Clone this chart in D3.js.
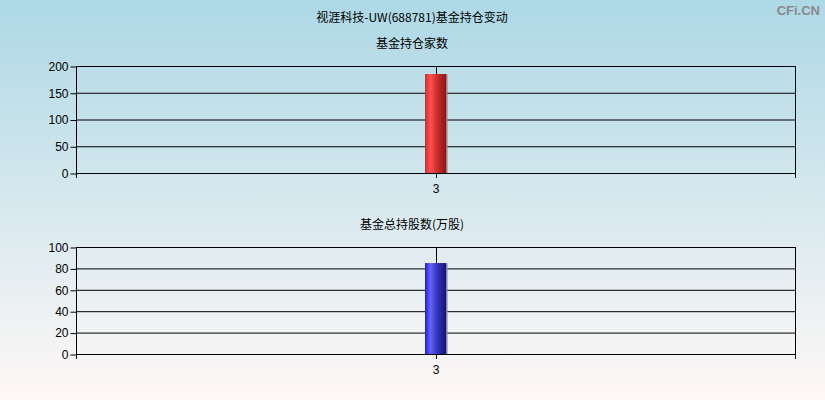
<!DOCTYPE html>
<html>
<head>
<meta charset="utf-8">
<script src="https://cdn.jsdelivr.net/npm/d3@7"></script>
<style>
  body { margin: 0; }
  svg { display: block; font-family: "Noto Sans CJK SC", "Noto Sans", sans-serif; }
</style>
</head>
<body>
<svg id="chart" width="825" height="400"></svg>
<script>
// data
const categories = ["3"];
const fundCounts = [185];
const fundShares = [85];
const countTicks = [0, 50, 100, 150, 200];
const shareTicks = [0, 20, 40, 60, 80, 100];

const svg = d3.select("#chart");
const defs = svg.append("defs");

// page background
const bg = defs.append("linearGradient").attr("id", "bg").attr("x1", 0).attr("y1", 0).attr("x2", 0).attr("y2", 1);
bg.append("stop").attr("offset", "0%").attr("stop-color", "#add8e6");
bg.append("stop").attr("offset", "100%").attr("stop-color", "#fff8f6");
svg.append("rect").attr("width", 825).attr("height", 400).attr("fill", "url(#bg)");

// bar shading
function barGradient(id, stops) {
  const g = defs.append("linearGradient").attr("id", id).attr("x1", 0).attr("y1", 0).attr("x2", 1).attr("y2", 0);
  stops.forEach(([o, c]) => g.append("stop").attr("offset", o).attr("stop-color", c));
}
barGradient("red", [["0%", "#e82020"], ["25%", "#ff5252"], ["60%", "#c82a2a"], ["100%", "#8a1818"]]);
barGradient("blue", [["0%", "#1a1aee"], ["25%", "#6464ff"], ["60%", "#3232b8"], ["100%", "#14146e"]]);

svg.append("text").attr("x", 412).attr("y", 22).attr("text-anchor", "middle")
  .attr("font-size", 12).text("视涯科技-UW(688781)基金持仓变动");

svg.append("text").attr("x", 820).attr("y", 15).attr("text-anchor", "end")
  .attr("font-size", 13).attr("font-weight", "bold").attr("fill", "#8a8a8a")
  .attr("font-family", "'Liberation Sans', sans-serif").text("CFi.CN");

const left = 76, right = 795;

function panel(title, titleY, top, bottom, values, ticks, grad) {
  const x = d3.scalePoint().domain(categories).range([left, right]).padding(0.5);
  const y = d3.scaleLinear().domain([0, d3.max(ticks)]).range([bottom, top]);
  const g = svg.append("g");

  g.append("text").attr("x", 412).attr("y", titleY).attr("text-anchor", "middle")
    .attr("font-size", 12).text(title);

  // horizontal grid
  g.selectAll(".grid").data(ticks).enter().append("line")
    .attr("x1", left).attr("x2", right)
    .attr("y1", d => y(d) + 0.5).attr("y2", d => y(d) + 0.5)
    .attr("stroke", "#000");

  // vertical category line + borders
  g.selectAll(".vline").data(categories).enter().append("line")
    .attr("x1", d => Math.round(x(d)) + 0.5).attr("x2", d => Math.round(x(d)) + 0.5)
    .attr("y1", top).attr("y2", bottom + 5).attr("stroke", "#000");
  [left, right].forEach(px => {
    g.append("line").attr("x1", px + 0.5).attr("x2", px + 0.5)
      .attr("y1", top).attr("y2", bottom + 5).attr("stroke", "#000");
  });

  // y axis
  const yAxis = d3.axisLeft(y).tickValues(ticks).tickSize(6).tickPadding(2);
  const ya = g.append("g").attr("transform", `translate(${left + 0.5},0.5)`).call(yAxis);
  ya.select(".domain").remove();
  ya.selectAll("text").attr("font-size", 12).attr("fill", "#000");

  // x labels
  const xAxis = d3.axisBottom(x).tickSize(0).tickPadding(11);
  const xa = g.append("g").attr("transform", `translate(0,${bottom})`).call(xAxis);
  xa.select(".domain").remove();
  xa.selectAll("text").attr("font-size", 12).attr("fill", "#000");

  // bars
  const bw = 21;
  g.selectAll(".shadow").data(values).enter().append("rect")
    .attr("x", (d, i) => x(categories[i]) - bw / 2 + bw)
    .attr("y", d => y(d)).attr("width", 1.5).attr("height", d => bottom - y(d))
    .attr("fill", "#888");
  g.selectAll(".bar").data(values).enter().append("rect")
    .attr("x", (d, i) => x(categories[i]) - bw / 2)
    .attr("y", d => y(d)).attr("width", bw).attr("height", d => bottom - y(d))
    .attr("fill", `url(#${grad})`);
}

panel("基金持仓家数", 48, 66, 173, fundCounts, countTicks, "red");
panel("基金总持股数(万股)", 229, 247, 354, fundShares, shareTicks, "blue");
</script>
</body>
</html>
